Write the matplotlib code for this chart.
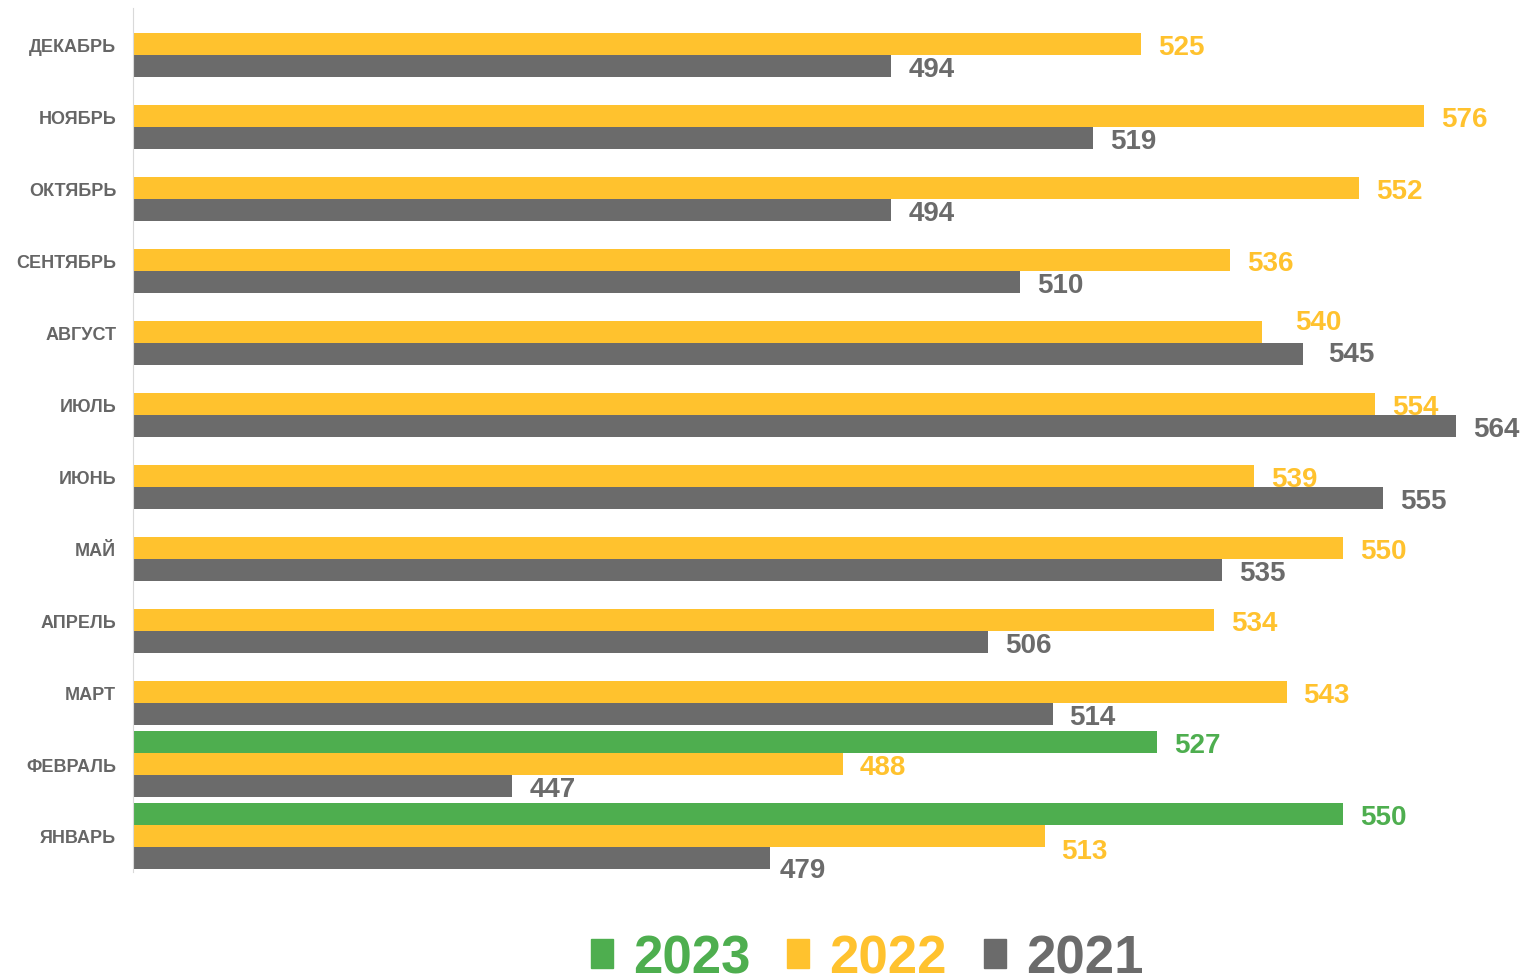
import matplotlib
matplotlib.use("Agg")
import matplotlib.pyplot as plt
import numpy as np

plt.rcParams["font.family"] = ["Liberation Sans", "DejaVu Sans"]

# months bottom -> top
months = ["ЯНВАРЬ", "ФЕВРАЛЬ", "МАРТ", "АПРЕЛЬ", "МАЙ", "ИЮНЬ",
          "ИЮЛЬ", "АВГУСТ", "СЕНТЯБРЬ", "ОКТЯБРЬ", "НОЯБРЬ", "ДЕКАБРЬ"]
years = ["2023", "2022", "2021"]

values_2023 = [550, 527]
values_2022 = [513, 488, 543, 534, 550, 539, 554, 540, 536, 552, 560, 525]
values_2021 = [479, 447, 514, 506, 535, 555, 564, 545, 510, 494, 519, 494]
# the printed labels (November 2022 bar is drawn shorter than its label says)
labels_2022 = ["513", "488", "543", "534", "550", "539", "554", "540",
               "536", "552", "576", "525"]

colors = {"2023": "#4EAE4F", "2022": "#FFC22E", "2021": "#6B6B6B"}

# label nudges in pixels (dx, dy up) where the original moved them
nudges = {("2022", 7): (16, 13), ("2021", 7): (8, 3),
          ("2022", 0): (0, -12), ("2021", 0): (-8, -9)}

fig = plt.figure(figsize=(15.24, 9.78), dpi=100)
ax = fig.add_axes([133 / 1524, 105 / 978, 1331 / 1524, 864 / 978])

h = 22 / 72
series = [("2023", values_2023, [str(v) for v in values_2023], h),
          ("2022", values_2022, labels_2022, 0),
          ("2021", values_2021, [str(v) for v in values_2021], -h)]

for year, vals, labs, off in series:
    y = np.arange(len(vals)) + off
    ax.barh(y, vals, height=h, color=colors[year], left=0, linewidth=0)
    for i, (v, t) in enumerate(zip(vals, labs)):
        dx, dy = nudges.get((year, i), (0, 0))
        ax.annotate(t, (v, y[i]), xytext=((17 + dx) / 1.389, (dy - 3) / 1.389),
                    textcoords="offset points", va="center", ha="left",
                    fontsize=20, fontweight="bold", color=colors[year],
                    annotation_clip=False)

ax.set_xlim(400, 565)
ax.set_ylim(-0.5, 11.5)
ax.set_yticks(np.arange(len(months)))
ax.set_yticklabels(months, fontsize=13, fontweight="bold", color="#666666")
ax.tick_params(axis="y", length=0, pad=12)
ax.set_xticks([])
for s in ["top", "right", "bottom"]:
    ax.spines[s].set_visible(False)
ax.spines["left"].set_color("#D9D9D9")

handles = [plt.Rectangle((0, 0), 1, 1, color=colors[y]) for y in years]
leg = fig.legend(handles, years, loc="center", bbox_to_anchor=(0.569, 0.019),
                 ncol=3, frameon=False, prop={"size": 38, "weight": "bold"},
                 handlelength=0.42, handleheight=0.45, handletextpad=0.38,
                 columnspacing=0.7, borderpad=0.0)
for t, y in zip(leg.get_texts(), years):
    t.set_color(colors[y])

fig.savefig("out.png", dpi=100)
